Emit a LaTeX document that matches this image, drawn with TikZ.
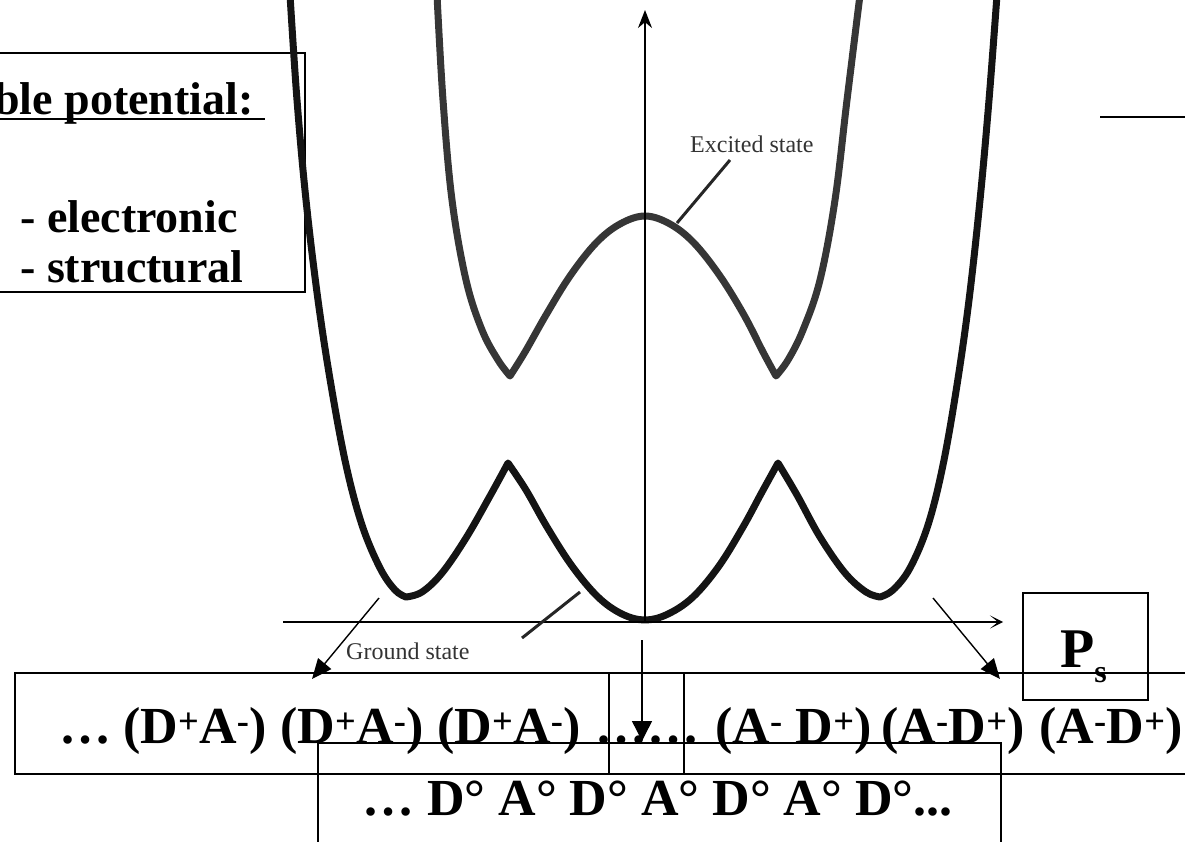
\documentclass[tikz,border=0pt]{standalone}
\usepackage{fontspec}
\setmainfont{Liberation Serif}
\usetikzlibrary{arrows.meta}
\definecolor{groundcol}{HTML}{141414}
\definecolor{excitedcol}{HTML}{363636}
\newcommand{\pairDA}{(D\textsuperscript{+}A\textsuperscript{-})}
\newcommand{\pairAD}{(A\textsuperscript{-}D\textsuperscript{+})}
\tikzset{
    % boxes and axes
    frame/.style={draw, line width=1.3pt},
    axis/.style={line width=1.4pt},
    % potential curves
    well/.style={line width=7pt, line join=round, line cap=round},
    leader/.style={line width=3pt, draw=black!85},
    % texts
    chain/.style={font=\fontsize{52}{60}\selectfont\bfseries, inner sep=0pt, anchor=base west},
    head/.style={font=\fontsize{46}{55}\selectfont\bfseries, inner sep=0pt, anchor=base west},
    lbl/.style={font=\fontsize{24}{28}\selectfont, text=black!80, inner sep=0pt, anchor=base west},
}

\begin{document}
\begin{tikzpicture}[x=1pt, y=-1pt]
    \useasboundingbox (0,0) rectangle (1185,842);

    % Left text box
    \draw[frame] (-5,53) -- (305,53) -- (305,292) -- (-5,292);
    \node[head] (title) at (-6,115) {ble potential:};
    \draw[line width=2pt] (0,119) -- (265,119);
    \node[head] (elec) at (20,233) {- electronic};
    \node[head] (struc) at (20,283) {- structural};
    \draw[line width=2.4pt] (1100,117) -- (1190,117);

    % Ground state
    \draw[well, groundcol]
        plot[smooth, tension=0.6] coordinates {(290,-5) (297,100) (306,200) (318,300) (331,385)
            (346,465) (362,525) (380,568) (395,590) (406,597)}
        -- plot[smooth, tension=0.6] coordinates {(406,597) (422,592) (442,573) (466,538) (490,496) (508,463)}
        -- plot[smooth, tension=0.6] coordinates {(508,463) (526,490) (547,527) (572,566) (598,597)
            (622,614) (645,620) (668,614) (693,597) (719,566) (743,527) (762,492) (778,463)}
        -- plot[smooth, tension=0.6] coordinates {(778,463) (797,495) (820,537) (845,573) (866,592) (880,597)}
        -- plot[smooth, tension=0.6] coordinates {(880,597) (893,590) (910,568) (928,525)
            (943,465) (957,385) (969,300) (980,200) (989,100) (997,-5)};

    % Excited state
    \draw[well, excitedcol]
        plot[smooth, tension=0.6] coordinates {(437,-5) (443,100) (452,200) (466,280) (482,330) (498,360) (510,376)}
        -- plot[smooth, tension=0.6] coordinates {(510,376) (525,352) (546,315) (570,276) (596,243)
            (620,224) (645,216) (670,224) (694,243) (720,276) (744,315) (763,352) (776,376)}
        -- plot[smooth, tension=0.6] coordinates {(776,376) (788,360) (803,330) (820,280) (835,200) (847,100) (860,-5)};

    % Axes
    \coordinate (origin) at (645,622);
    \coordinate (ytop) at (645,10);
    \coordinate (xleft) at (283,622);
    \coordinate (xright) at (1003,622);
    \draw[axis, -{Stealth[length=18pt, width=14pt]}] (origin) -- (ytop);
    \draw[axis, -{Stealth[length=13pt, width=13pt, inset=8pt]}] (xleft) -- (xright);

    % Labels
    \node[lbl] (exclbl) at (690,153) {Excited state};
    \coordinate (excfoot) at (730,160);
    \coordinate (excpt) at (677,223);
    \draw[leader] (excfoot) -- (excpt);
    \node[lbl] (gndlbl) at (346,659) {Ground state};
    \coordinate (gndfoot) at (522,638);
    \coordinate (gndpt) at (580,592);
    \draw[leader] (gndfoot) -- (gndpt);

    % Arrows down to the chains
    \coordinate (lwell) at (379,598);
    \coordinate (lchain) at (312,679);
    \coordinate (rwell) at (933,598);
    \coordinate (rchain) at (1000,679);
    \coordinate (mtop) at (642,640);
    \coordinate (mchain) at (642,741);
    \draw[line width=1.4pt, -{Triangle[length=20pt, width=17pt]}] (lwell) -- (lchain);
    \draw[line width=1.4pt, -{Triangle[length=20pt, width=17pt]}] (rwell) -- (rchain);
    \draw[line width=1.4pt, -{Triangle[length=20pt, width=20pt]}] (mtop) -- (mchain);

    % P_s box
    \draw[frame] (1023,593) rectangle (1148,700);
    \node[inner sep=0pt, anchor=base west, font=\fontsize{56}{64}\selectfont\bfseries] (ps) at (1060,667)
        {P\raisebox{-15pt}{\fontsize{32}{32}\selectfont s}};

    % Chain boxes
    \draw[frame] (15,673) rectangle (1200,774);
    \draw[frame] (609,673) rectangle (684,774);
    \draw[frame] (318,850) -- (318,743) -- (1001,743) -- (1001,850);

    % Ionic chain
    \foreach \x/\v in {59/…, 123/\pairDA, 280/\pairDA, 437/\pairDA, 595/……,
                       715/(A\textsuperscript{-} D\textsuperscript{+}), 881/\pairAD, 1039/\pairAD} {
        \node[chain] (ion\x) at (\x,743) {\v};
    }

    % Neutral chain
    \node[chain] (neutral) at (362,815) {… D° A° D° A° D° A° D°...};
\end{tikzpicture}
\end{document}
